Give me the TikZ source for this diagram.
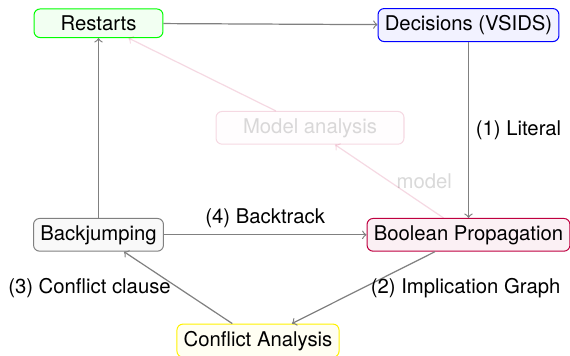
\documentclass[tikz,border=0pt]{standalone}
\usepackage{fontspec}
\setmainfont{TeX Gyre Heros}
\begin{document}
\begin{tikzpicture}[x=0.4926pt, y=-0.4926pt,
  stage/.style={draw, rounded corners=3pt, inner sep=3.33pt, line width=0.5pt, anchor=base},
  flow/.style={->, draw=gray, line width=0.6pt},
  faded/.style={opacity=0.15}]
\useasboundingbox (0,0) rectangle (570,355);

% CDCL solver stages
\node[stage, draw=green, fill=green!5, minimum width=63.5pt] (restart) at (98.5,30.5) {Restarts};
\node[stage, draw=blue, fill=blue!5] (decide) at (468.5,30.5) {Decisions (VSIDS)};
\node[stage, draw=purple, fill=purple!6] (bcp) at (468.5,240) {Boolean Propagation};
\node[stage, draw=gray, fill=gray!5] (backjump) at (98.5,240) {Backjumping};
\node[stage, draw=yellow, fill=yellow!5] (analyze) at (258,346) {Conflict Analysis};
\node[stage, faded, draw=purple, fill=purple!5, minimum width=92.6pt] (model) at (310,133) {Model analysis};

% main loop
\draw[flow] (restart) -- (decide);
\draw[flow] (decide) -- node[right] {(1) Literal} (bcp);
\draw[flow] (bcp) -- node[right] {(2) Implication Graph} (analyze);
\draw[flow] (analyze) -- node[left] {(3) Conflict clause} (backjump);
\draw[flow] (backjump) -- node[above] {(4) Backtrack} (bcp);
\draw[flow] (backjump) -- (restart);

% optional model branch
\draw[->, faded, draw=purple, line width=0.6pt] (bcp) -- node[right] {model} (model);
\draw[->, faded, draw=purple, line width=0.6pt] (model) -- (restart);
\end{tikzpicture}
\end{document}
